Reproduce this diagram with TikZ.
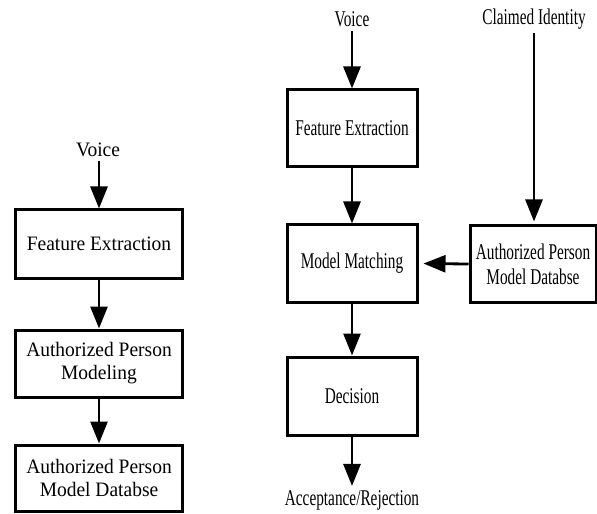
\documentclass[tikz,border=0pt]{standalone}
\usepackage{fontspec}
\setmainfont{Liberation Serif}
\newfontfamily\leftfont[FakeStretch=0.95]{Liberation Serif}
\newfontfamily\rightfont[FakeStretch=0.68]{Liberation Serif}
\usetikzlibrary{arrows.meta}
\begin{document}
\begin{tikzpicture}[x=1bp,y=-1bp,
  lbox/.style={draw, line width=3bp, minimum width=166bp, inner sep=0pt, align=center,
    font=\leftfont\fontsize{20.5bp}{23bp}\selectfont},
  rbox/.style={draw, line width=3bp, inner sep=0pt, align=center,
    font=\rightfont\fontsize{22.5bp}{25bp}\selectfont},
  llabel/.style={inner sep=2bp, font=\leftfont\fontsize{20.5bp}{23bp}\selectfont},
  rlabel/.style={inner sep=2bp, font=\rightfont\fontsize{22.5bp}{25bp}\selectfont},
  arr/.style={line width=2.8bp, -{Triangle[width=17bp,length=22bp]}},
]
\useasboundingbox (0,0) rectangle (597,514);
% left chain
\node[llabel] (lv) at (98,150) {Voice};
\node[lbox, minimum height=68bp] (lfe) at (99,244) {Feature Extraction};
\node[lbox, minimum height=67bp] (lapm) at (99,363.5) {Authorized Person\\Modeling};
\node[lbox, minimum height=66bp] (ldb) at (99,478) {Authorized Person\\Model Databse};
\draw[arr, shorten <=2bp] (lv.south -| lfe.north) -- (lfe.north);
\draw[arr] (lfe) -- (lapm);
\draw[arr] (lapm) -- (ldb);
% right chain
\node[rlabel] (rv) at (352,19) {Voice};
\node[rbox, minimum width=130bp, minimum height=77bp] (rfe) at (352,128.5) {Feature Extraction};
\node[rbox, minimum width=130bp, minimum height=77bp] (rmm) at (352,263.5) {Model Matching};
\node[rbox, minimum width=130bp, minimum height=78bp] (rdec) at (352,396) {Decision};
\node[rlabel] (acc) at (352,500) {Acceptance/Rejection};
\node[rlabel] (ci) at (534,19) {Claimed Identity};
\node[rbox, minimum width=126bp, minimum height=76bp] (rdb) at (533,264) {Authorized Person\\Model Databse};
\draw[arr, shorten <=2bp] (rv.south) -- (rfe.north);
\draw[arr] (rfe) -- (rmm);
\draw[arr] (rmm) -- (rdec);
\draw[arr, shorten >=2bp] (rdec.south) -- (acc.north);
\draw[arr, shorten <=2bp, shorten >=3bp] (ci.south) -- (ci.south |- rdb.north);
\draw[arr, shorten >=5bp] (rdb.west) -- (rmm.east);
\end{tikzpicture}
\end{document}
